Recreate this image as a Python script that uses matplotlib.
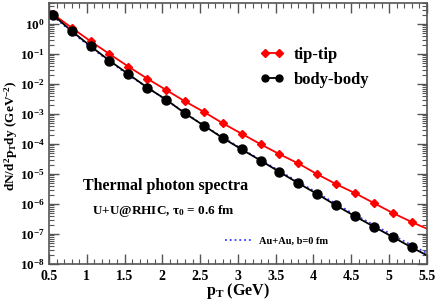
import matplotlib
matplotlib.use("Agg")
import matplotlib.pyplot as plt
import numpy as np
from matplotlib.ticker import MultipleLocator, LogLocator, FuncFormatter, NullFormatter

plt.rcParams['font.family'] = 'Liberation Serif'
plt.rcParams['font.weight'] = 'bold'
plt.rcParams['mathtext.fontset'] = 'custom'
plt.rcParams['mathtext.rm'] = 'Liberation Serif:bold'
plt.rcParams['mathtext.bf'] = 'Liberation Serif:bold'
plt.rcParams['mathtext.it'] = 'Liberation Serif:bold:italic'

# pT points of the markers
pt = [0.55, 0.8, 1.05, 1.3, 1.55, 1.8, 2.05, 2.3, 2.55, 2.8,
      3.05, 3.3, 3.55, 3.8, 4.05, 4.3, 4.55, 4.8, 5.05, 5.3]
tip_tip = [2.16, 0.75, 0.265, 0.1, 0.038, 0.0151, 6.3e-3, 2.63e-3, 1.17e-3, 4.9e-4,
           2.19e-4, 9.8e-5, 4.57e-5, 2.24e-5, 9.8e-6, 4.57e-6, 2.29e-6, 1.07e-6, 5.0e-7, 2.5e-7]
body_body = [2.04, 0.58, 0.182, 0.060, 0.0214, 7.6e-3, 3.0e-3, 1.05e-3, 4.07e-4, 1.58e-4,
             6.6e-5, 2.8e-5, 1.17e-5, 4.9e-6, 2.14e-6, 8.9e-7, 3.9e-7, 1.74e-7, 7.9e-8, 3.55e-8]
# curve ends at pT = 0.5 and 5.5
tip_ends = [2.6, 1.5e-7]
body_ends = [2.6, 1.95e-8]

# Au+Au b=0 curve
pt_au = [0.5, 0.55, 1.05, 1.55, 2.05, 2.55, 3.05, 3.55, 4.05, 4.55, 5.05, 5.5]
auau = [2.2, 1.82, 0.166, 0.0200, 2.95e-3, 4.07e-4, 6.9e-5, 1.26e-5, 2.34e-6, 4.37e-7, 9.1e-8, 2.3e-8]

fig = plt.figure(figsize=(4.36, 3.01), dpi=100)
ax = fig.add_axes([0.1124, 0.123, 0.979 - 0.1124, 0.990 - 0.123])

ax.plot(pt_au, auau, ':', color='#3a3aff', lw=1.3)
ax.plot([0.5] + pt + [5.5], [tip_ends[0]] + tip_tip + [tip_ends[1]], '-', color='red', lw=1.3)
ax.plot([0.5] + pt + [5.5], [body_ends[0]] + body_body + [body_ends[1]], '-', color='black', lw=1.3)
ax.plot(pt, tip_tip, 'D', color='red', ms=4.5)
ax.plot(pt, body_body, 'o', color='black', ms=6.5)
h1, = ax.plot([], [], '-D', color='red', lw=1.3, ms=4.5)
h2, = ax.plot([], [], '-o', color='black', lw=1.3, ms=5)
h3, = ax.plot([], [], ':', color='#3a3aff', lw=1.3)

ax.set_yscale('log')
ax.set_xlim(0.5, 5.5)
ax.set_ylim(1e-8, 5)
ax.xaxis.set_major_locator(MultipleLocator(0.5))
ax.xaxis.set_minor_locator(MultipleLocator(0.1))
ax.yaxis.set_major_locator(LogLocator(base=10, numticks=20))
ax.yaxis.set_minor_locator(LogLocator(base=10, subs=np.arange(2, 10), numticks=20))
ax.yaxis.set_minor_formatter(NullFormatter())
ax.yaxis.set_major_formatter(FuncFormatter(lambda v, p: r'$\mathbf{10^{%d}}$' % int(round(np.log10(v)))))
ax.xaxis.set_major_formatter(FuncFormatter(lambda v, p: ('%g' % v)))
ax.tick_params(which='both', direction='in', top=True, right=True, labelsize=10, color='#555555')
ax.tick_params(axis='y', labelsize=9.5, pad=3)
ax.tick_params(axis='x', pad=4)
ax.tick_params(which='major', length=7, width=1)
ax.tick_params(which='minor', length=3.5, width=0.8)
for s in ax.spines.values():
    s.set_color('#555555')
    s.set_linewidth(1.2)

ax.set_xlabel(r'$\mathbf{p_T}$ (GeV)', fontsize=11.5, fontweight='bold', labelpad=-1)
ax.set_ylabel(r'$\mathbf{dN/d^2p_T dy\ (GeV^{-2})}$', fontsize=9.5, labelpad=0)
ax.yaxis.set_label_coords(-0.076, 0.49)

leg = ax.legend([h1, h2], ['tip-tip', 'body-body'], loc='upper left',
                bbox_to_anchor=(0.52, 0.89), frameon=False, fontsize=12,
                numpoints=2, handlelength=1.4, handletextpad=0.6, labelspacing=0.55)
ax.add_artist(leg)
ax.legend([h3], ['Au+Au, b=0 fm'], loc='upper left', bbox_to_anchor=(0.44, 0.14),
          frameon=False, fontsize=7.5, handlelength=2.6, handletextpad=0.7)

ax.text(0.09, 0.285, 'Thermal photon spectra', transform=ax.transAxes, fontsize=11.5, fontweight='bold')
ax.text(0.115, 0.19, r'U+U@RHIC, $\mathbf{\tau_0}$ = 0.6 fm', transform=ax.transAxes,
        fontsize=9.5, fontweight='bold')

fig.savefig('out.png', dpi=100)
